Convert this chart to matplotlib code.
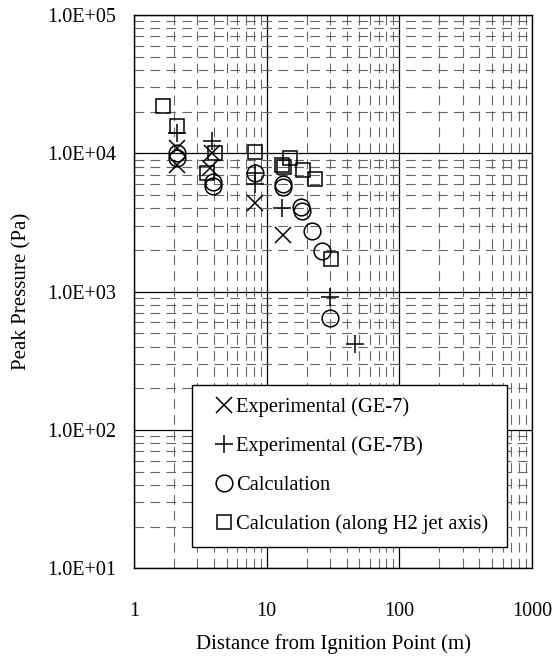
import matplotlib
matplotlib.use('Agg')
import matplotlib.pyplot as plt
from matplotlib.ticker import LogLocator, FixedLocator, FuncFormatter, NullFormatter

plt.rcParams['font.family'] = ['Liberation Serif', 'DejaVu Serif']
plt.rcParams['lines.scale_dashes'] = False

# Experimental (GE-7)
ge7Dist = [2.1, 2.1, 3.85, 3.75, 8.2, 13.3]
ge7Press = [1.1e4, 8.2e3, 1.0e4, 7.8e3, 4.35e3, 2.55e3]

# Experimental (GE-7B)
ge7bDist = [2.1, 3.85, 8.2, 8.2, 13.0, 30.0, 46.3]
ge7bPress = [1.4e4, 1.23e4, 7.2e3, 6.0e3, 4.0e3, 920, 420]

# Calculation
calcDist = [2.1, 2.1, 3.95, 3.95, 8.2, 13.3, 13.3, 18.0, 18.5, 21.8, 26.0, 30.0]
calcPress = [1.0e4, 9.3e3, 6.2e3, 5.8e3, 7.2e3, 6.0e3, 5.7e3, 4.1e3, 3.8e3, 2.75e3, 1.97e3, 650]

# Calculation along the H2 jet axis
jetDist = [1.65, 2.1, 3.55, 4.1, 8.2, 13.0, 13.6, 15.0, 18.9, 23.1, 30.4]
jetPress = [2.2e4, 1.58e4, 7.2e3, 1.0e4, 1.03e4, 8.2e3, 8.0e3, 9.2e3, 7.6e3, 6.5e3, 1.71e3]

xTicks = [1, 10, 100, 1000]
yTicks = [1e1, 1e2, 1e3, 1e4, 1e5]

fig = plt.figure(figsize=(5.55, 6.56), dpi=100)
ax = fig.add_axes([0.2414, 0.1337, 0.7172, 0.8434])

mkw = dict(linestyle='none', color='black', markerfacecolor='none', markeredgewidth=1.1)
ax.plot(ge7Dist, ge7Press, marker='x', markersize=12, label='Experimental (GE-7)', **mkw)
ax.plot(ge7bDist, ge7bPress, marker='+', markersize=13, label='Experimental (GE-7B)', **mkw)
ax.plot(calcDist, calcPress, marker='o', markersize=12, label='Calculation', **mkw)
ax.plot(jetDist, jetPress, marker='s', markersize=9.5, label='Calculation (along H2 jet axis)', **mkw)

ax.set_xscale('log')
ax.set_yscale('log')
ax.set_xlim(1, 1000)
ax.set_ylim(10, 1e5)

ax.xaxis.set_major_locator(FixedLocator(xTicks))
ax.xaxis.set_major_formatter(FuncFormatter(lambda v, p: f'{v:g}'))
ax.yaxis.set_major_locator(FixedLocator(yTicks))
ax.yaxis.set_major_formatter(FuncFormatter(lambda v, p: f'{v:.1E}'))
ax.xaxis.set_minor_locator(LogLocator(base=10, subs=range(2, 10)))
ax.yaxis.set_minor_locator(LogLocator(base=10, subs=range(2, 10)))
ax.xaxis.set_minor_formatter(NullFormatter())
ax.yaxis.set_minor_formatter(NullFormatter())

ax.set_axisbelow(True)
ax.grid(which='major', color='black', linewidth=0.9, linestyle='-')
ax.grid(which='minor', color='#666666', linewidth=0.8, linestyle=(0, (7, 4.5)))

ax.tick_params(which='both', length=0, labelsize=14.5)
ax.tick_params(axis='x', pad=24)
ax.tick_params(axis='y', pad=13)
for s in ax.spines.values():
    s.set_linewidth(1.0)
    s.set_color('black')

ax.set_xlabel('Distance from Ignition Point (m)', fontsize=15, labelpad=10)
ax.set_ylabel('Peak Pressure (Pa)', fontsize=15, labelpad=11)

leg = ax.legend(loc='lower left', bbox_to_anchor=(0.145, 0.039, 0.793, 0.283), mode='expand',
                borderaxespad=0, fontsize=14.8, frameon=True, fancybox=False,
                edgecolor='black', framealpha=1, borderpad=0.6, handlelength=1.9,
                handletextpad=-0.33, labelspacing=0.95, numpoints=1)
leg.get_frame().set_linewidth(1.0)

fig.savefig('out.png', dpi=100)
